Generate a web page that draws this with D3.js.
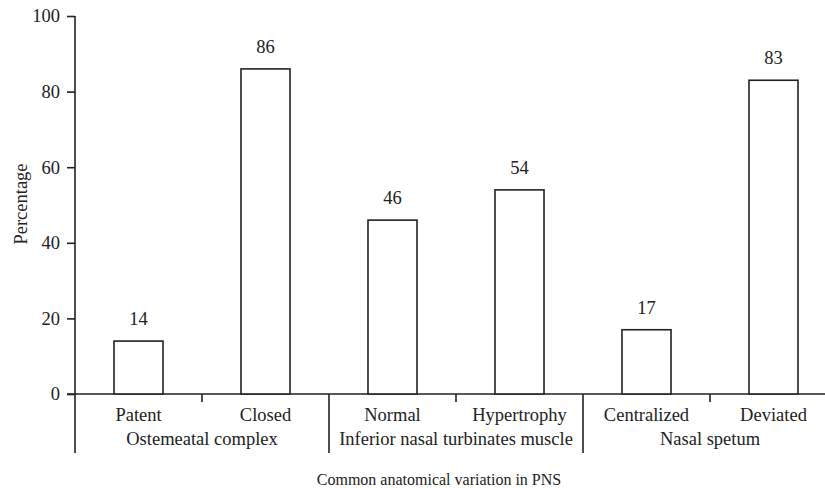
<!DOCTYPE html>
<html><head><meta charset="utf-8">
<script src="https://cdn.jsdelivr.net/npm/d3@7/dist/d3.min.js"></script>
<style>
html,body{margin:0;padding:0;background:#fff;}
text{font-family:"Liberation Serif","Times New Roman",serif;fill:#222;}
</style></head>
<body><svg id="c" width="825" height="488"></svg>
<script>
const categories = ["Patent","Closed","Normal","Hypertrophy","Centralized","Deviated"];
const values = [14, 86, 46, 54, 17, 83];
const groups = ["Ostemeatal complex","Inferior nasal turbinates muscle","Nasal spetum"];
const groupOf = [0,0,1,1,2,2];
const yTicks = [0,20,40,60,80,100];

const svg = d3.select("#c");
const ink = "#222";
const fs = 18.5;
const x0 = 75, step = 127;
const x = d3.scaleBand().domain(categories).range([x0, x0 + step*categories.length])
  .paddingInner(0.614).paddingOuter(0.307);
const y = d3.scaleLinear().domain([0,100]).range([394,16]);
const gx = d3.scaleBand().domain(groups).range([x0, x0 + step*categories.length]);

// Y axis
const ya = svg.append("g").attr("transform",`translate(${x0},0)`)
  .call(d3.axisLeft(y).tickValues(yTicks).tickSize(8).tickPadding(7).tickFormat(d3.format("d")));
ya.select(".domain").remove();
ya.selectAll(".tick line").attr("stroke",ink).attr("stroke-width",1.6);
ya.selectAll(".tick text").attr("font-size",fs).style("font-family","Liberation Serif").attr("fill",ink);
svg.append("line").attr("x1",x0).attr("x2",x0).attr("y1",y(100)).attr("y2",453)
  .attr("stroke",ink).attr("stroke-width",1.6);

// X axis baseline
svg.append("line").attr("x1",67).attr("x2",825).attr("y1",y(0)).attr("y2",y(0))
  .attr("stroke",ink).attr("stroke-width",1.6);

// Category boundary ticks
for (let i = 1; i < categories.length; i++) {
  const bx = x0 + step*i;
  const isGroup = groupOf[i] !== groupOf[i-1];
  svg.append("line").attr("x1",bx).attr("x2",bx).attr("y1",y(0)).attr("y2", isGroup ? 453 : 402)
    .attr("stroke",ink).attr("stroke-width",1.6);
}

// Bars
svg.selectAll("rect.bar").data(categories).join("rect").attr("class","bar")
  .attr("x",d=>x(d)).attr("width",x.bandwidth())
  .attr("y",(d,i)=>y(values[i])).attr("height",(d,i)=>y(0)-y(values[i]))
  .attr("fill","#fff").attr("stroke",ink).attr("stroke-width",1.6);

// Value labels
svg.selectAll("text.val").data(categories).join("text").attr("class","val")
  .attr("x",d=>x(d)+x.bandwidth()/2).attr("y",(d,i)=>y(values[i])-16)
  .attr("text-anchor","middle").attr("font-size",fs).text((d,i)=>values[i]);

// Category labels
svg.selectAll("text.cat").data(categories).join("text").attr("class","cat")
  .attr("x",d=>x(d)+x.bandwidth()/2).attr("y",421)
  .attr("text-anchor","middle").attr("font-size",fs).text(d=>d);

// Group labels
svg.selectAll("text.grp").data(groups).join("text").attr("class","grp")
  .attr("x",d=>gx(d)+gx.bandwidth()/2).attr("y",445)
  .attr("text-anchor","middle").attr("font-size",fs).text(d=>d);

// Axis titles
svg.append("text").attr("x",439).attr("y",485).attr("text-anchor","middle")
  .attr("font-size",16).text("Common anatomical variation in PNS");
svg.append("text").attr("transform","translate(27,204) rotate(-90)").attr("text-anchor","middle")
  .attr("font-size",fs).text("Percentage");
</script></body></html>
